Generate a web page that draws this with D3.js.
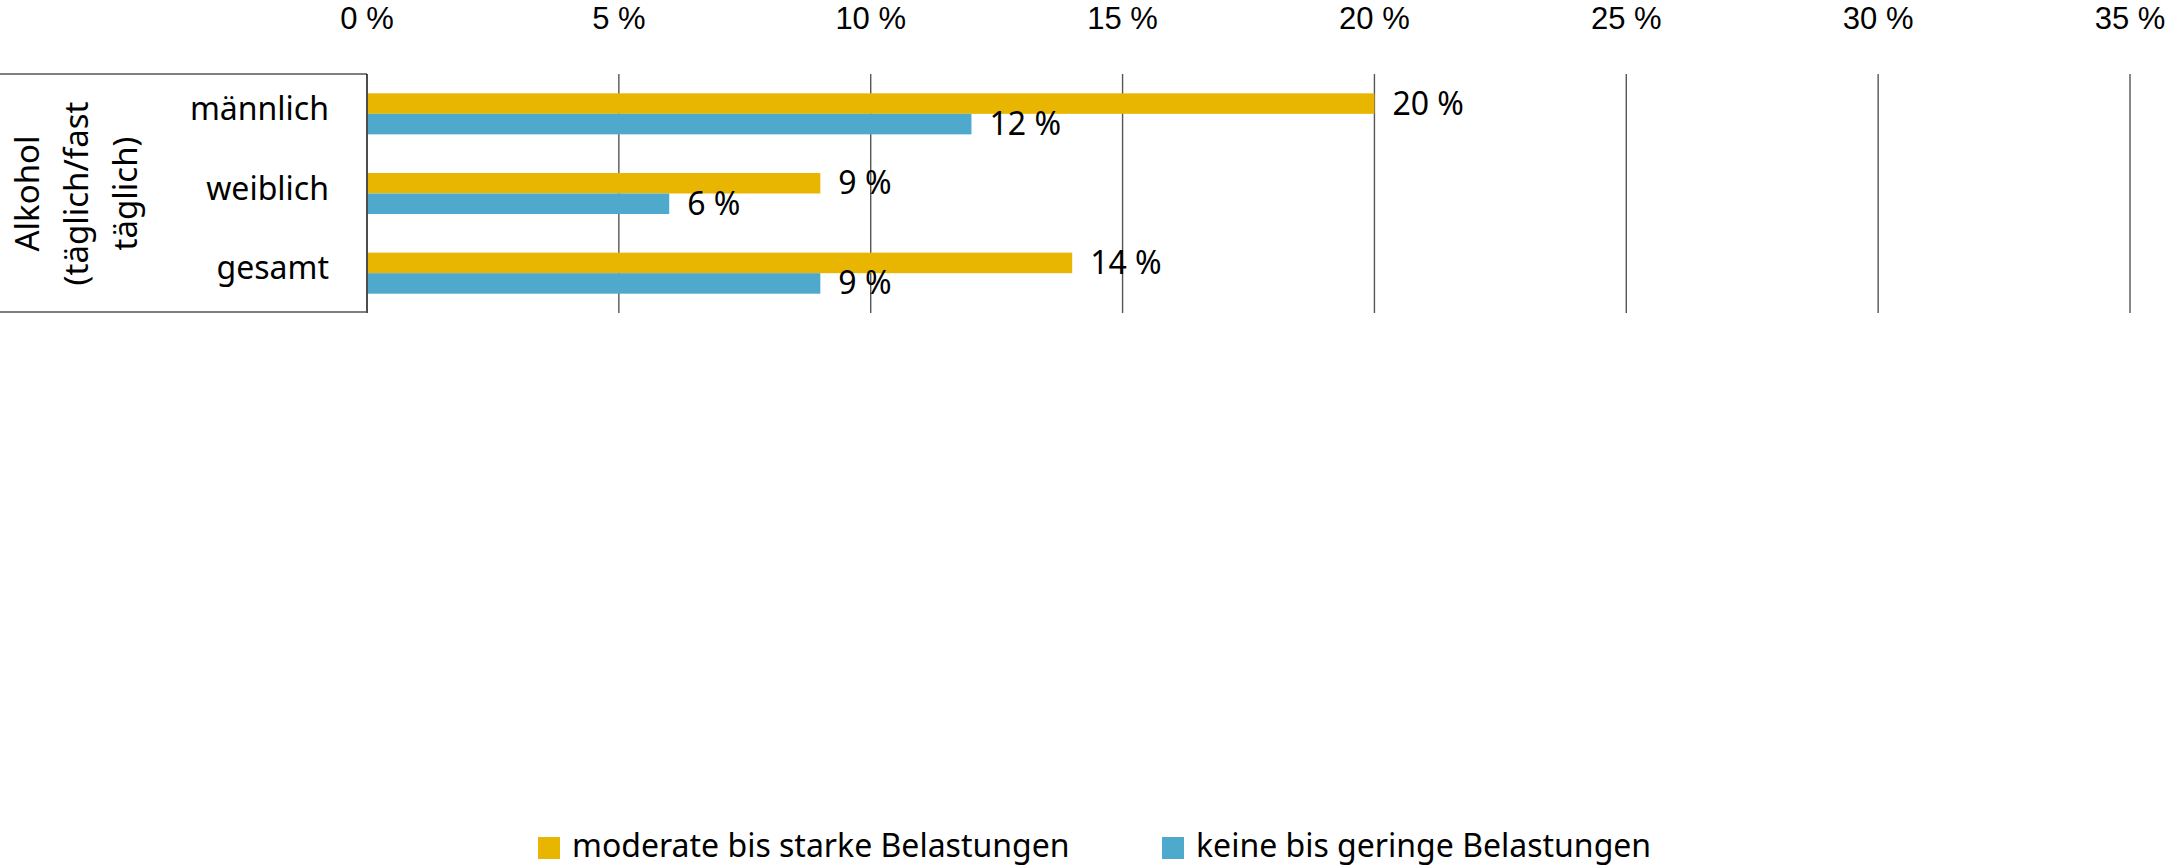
<!DOCTYPE html>
<html>
<head>
<meta charset="utf-8">
<script src="https://cdn.jsdelivr.net/npm/d3@7"></script>
<style>
    body { margin: 0; background: #fff; }
    text { font-family: "Noto Sans", "Open Sans", sans-serif; fill: #000; }
    text.tick { font-family: "Liberation Sans", "Noto Sans", sans-serif; }
</style>
</head>
<body>
<div id="chart"></div>
<script>
// data
var groupLabel = ["Alkohol", "(täglich/fast", "täglich)"];
var categories = ["männlich", "weiblich", "gesamt"];
var seriesNames = ["moderate bis starke Belastungen", "keine bis geringe Belastungen"];
var seriesColors = ["#e8b600", "#4fa9cc"];
var moderateValues = [20, 9, 14];
var geringValues = [12, 6, 9];
var tickValues = [0, 5, 10, 15, 20, 25, 30, 35];

window.onload = init;

function init() {
    drawChart();
}

function drawChart() {
    var w = 2170;
    var h = 865;
    var fontSize = 32;

    var plotLeft = 367;
    var plotRight = 2130;
    var plotTop = 74;
    var plotBottom = 313;

    var svg = d3.select("#chart")
                .append("svg")
                .attr("width", w)
                .attr("height", h);

    // build rows from the arrays
    var rows = categories.map(function(c, i) {
        return { cat: c, values: [moderateValues[i], geringValues[i]] };
    });

    var x = d3.scaleLinear()
              .domain([0, 35])
              .range([plotLeft, plotRight]);

    var y = d3.scaleBand()
              .domain(categories)
              .range([plotTop, plotBottom])
              .paddingInner(0.485)
              .paddingOuter(0.2425);

    var y1 = d3.scaleBand()
               .domain([0, 1])
               .range([0, y.bandwidth()]);

    // vertical grid lines
    svg.selectAll("line.grid")
        .data(tickValues)
        .enter()
        .append("line")
        .attr("class", "grid")
        .attr("x1", function(d) { return x(d); })
        .attr("x2", function(d) { return x(d); })
        .attr("y1", plotTop)
        .attr("y2", plotBottom)
        .attr("stroke", function(d) { return d === 0 ? "#000" : "#555"; })
        .attr("stroke-width", 1.4);

    // tick labels on top
    svg.selectAll("text.tick")
        .data(tickValues)
        .enter()
        .append("text")
        .attr("class", "tick")
        .attr("x", function(d) { return x(d); })
        .attr("y", 29)
        .attr("text-anchor", "middle")
        .style("font-size", "31px")
        .text(function(d) { return d + " %"; });

    // box around the category labels
    svg.append("line")
        .attr("x1", 0).attr("x2", plotLeft)
        .attr("y1", plotTop).attr("y2", plotTop)
        .attr("stroke", "#000")
        .attr("stroke-width", 1.2);
    svg.append("line")
        .attr("x1", 0).attr("x2", plotLeft)
        .attr("y1", plotBottom - 1).attr("y2", plotBottom - 1)
        .attr("stroke", "#555")
        .attr("stroke-width", 1.6);

    // bars
    var groups = svg.selectAll("g.row")
        .data(rows)
        .enter()
        .append("g")
        .attr("class", "row")
        .attr("transform", function(d) { return "translate(0," + y(d.cat) + ")"; });

    groups.selectAll("rect")
        .data(function(d) { return d.values; })
        .enter()
        .append("rect")
        .attr("x", x(0) + 1)
        .attr("y", function(d, i) { return y1(i); })
        .attr("width", function(d) { return x(d) - x(0) - 1; })
        .attr("height", y1.bandwidth())
        .attr("fill", function(d, i) { return seriesColors[i]; });

    // value labels right of the bars
    groups.selectAll("text.value")
        .data(function(d) { return d.values; })
        .enter()
        .append("text")
        .attr("class", "value")
        .attr("x", function(d) { return x(d) + 18; })
        .attr("y", function(d, i) { return y1(i) + y1.bandwidth() / 2 + 11; })
        .style("font-size", fontSize + "px")
        .text(function(d) { return d + " %"; });

    // category labels
    svg.selectAll("text.cat")
        .data(categories)
        .enter()
        .append("text")
        .attr("class", "cat")
        .attr("x", 329)
        .attr("y", function(d) { return y(d) + y.bandwidth() / 2 + 6; })
        .attr("text-anchor", "end")
        .style("font-size", fontSize + "px")
        .text(function(d) { return d; });

    // rotated group label
    var midY = (plotTop + plotBottom) / 2;
    svg.selectAll("text.group")
        .data(groupLabel)
        .enter()
        .append("text")
        .attr("class", "group")
        .attr("text-anchor", "middle")
        .attr("transform", function(d, i) {
            return "translate(" + (39 + i * 49) + "," + midY + ") rotate(-90)";
        })
        .style("font-size", "33px")
        .text(function(d) { return d; });

    // legend
    var legendX = [538, 1162];
    var legend = svg.selectAll("g.legend")
        .data(seriesNames)
        .enter()
        .append("g")
        .attr("class", "legend")
        .attr("transform", function(d, i) { return "translate(" + legendX[i] + ",837)"; });

    legend.append("rect")
        .attr("width", 22)
        .attr("height", 22)
        .attr("fill", function(d, i) { return seriesColors[i]; });

    legend.append("text")
        .attr("x", 34)
        .attr("y", 20)
        .style("font-size", fontSize + "px")
        .text(function(d) { return d; });
}
</script>
</body>
</html>
